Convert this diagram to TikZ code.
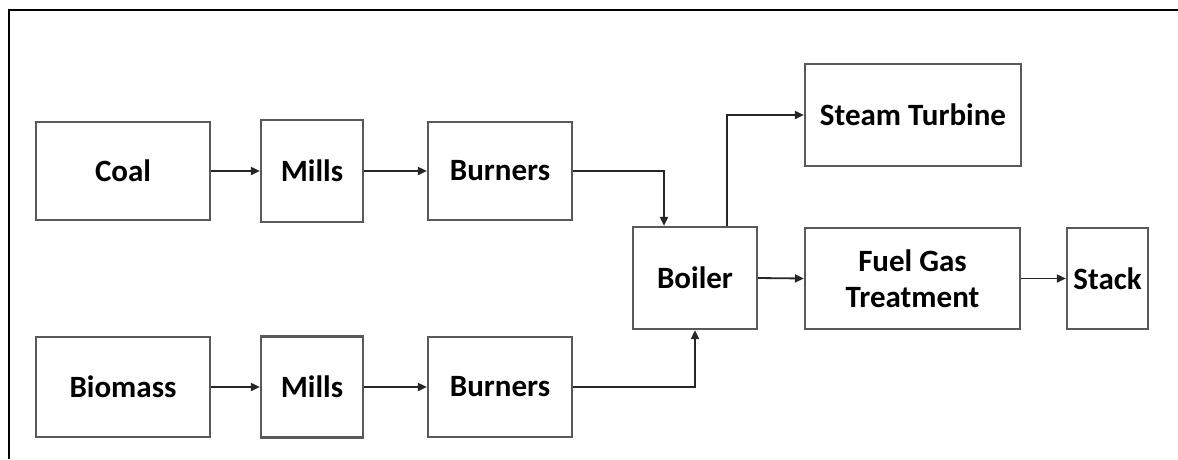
\documentclass[tikz,border=0pt]{standalone}
\usepackage{fontspec}
\setmainfont{Carlito}
\usetikzlibrary{arrows.meta}
\begin{document}
\begin{tikzpicture}[x=1pt,y=-1pt,
  blk/.style={draw=black!65,line width=2.2pt,inner sep=0pt,align=center,
    font=\fontsize{31}{36}\selectfont\bfseries},
  conn/.style={draw=black!85,line width=1.8pt,-{Triangle[length=9pt,width=8pt]}}]
\useasboundingbox (0,0) rectangle (1178,459);
\draw[line width=2pt] (9,459) -- (9,10) -- (1178,10);
\node[blk,minimum width=174pt,minimum height=98pt] (coal) at (123,171) {Coal};
\node[blk,minimum width=102pt,minimum height=102pt] (mills1) at (312,171) {Mills};
\node[blk,minimum width=144pt,minimum height=98pt] (burn1) at (500,171) {Burners};
\node[blk,minimum width=174pt,minimum height=100pt] (bio) at (123,387) {Biomass};
\node[blk,minimum width=102pt,minimum height=101pt] (mills2) at (312,387) {Mills};
\node[blk,minimum width=144pt,minimum height=100pt] (burn2) at (500,387) {Burners};
\node[blk,minimum width=124pt,minimum height=102pt] (boiler) at (695,278) {Boiler};
\node[blk,minimum width=216pt,minimum height=102pt] (steam) at (913,115) {Steam Turbine};
\node[blk,minimum width=215pt,minimum height=101pt] (fgt) at (912.5,278.5) {Fuel Gas\\Treatment};
\node[blk,minimum width=81pt,minimum height=101pt] (stack) at (1107.5,278.5) {Stack};
\draw[conn] (coal.east) -- (mills1.west);
\draw[conn] (mills1.east) -- (burn1.west);
\draw[conn] (bio.east) -- (mills2.west);
\draw[conn] (mills2.east) -- (burn2.west);
\draw[conn] (burn1.east) -| ([xshift=-31pt]boiler.north);
\draw[conn] (burn2.east) -| (boiler.south);
\draw[conn] ([xshift=32pt]boiler.north) |- (steam.west);
\draw[conn] (boiler.east) -- (fgt.west);
\draw[conn] (fgt.east) -- (stack.west);
\end{tikzpicture}
\end{document}
